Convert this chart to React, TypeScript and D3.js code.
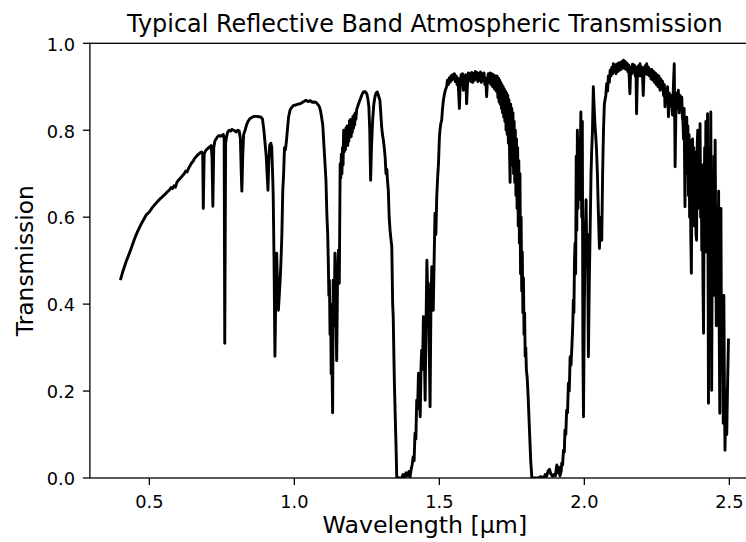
import React from "react";
import * as d3 from "d3";

const title = "Typical Reflective Band Atmospheric Transmission";
const xLabel = "Wavelength [μm]";
const yLabel = "Transmission";
const xTicks = [0.5, 1.0, 1.5, 2.0, 2.5];
const yTicks = [0.0, 0.2, 0.4, 0.6, 0.8, 1.0];

// [wavelength µm, transmission]
const visNir: [number, number][] = [
  [0.400, 0.455], [0.410, 0.478], [0.420, 0.498], [0.430, 0.515], [0.440, 0.533], [0.450, 0.552],
  [0.460, 0.568], [0.470, 0.582], [0.480, 0.594], [0.490, 0.606], [0.500, 0.612], [0.510, 0.622],
  [0.520, 0.630], [0.530, 0.637], [0.540, 0.644], [0.550, 0.650], [0.560, 0.657], [0.570, 0.663],
  [0.575, 0.668], [0.580, 0.666], [0.585, 0.672], [0.590, 0.669], [0.595, 0.680], [0.600, 0.685],
  [0.610, 0.692], [0.620, 0.700], [0.625, 0.706], [0.630, 0.704], [0.635, 0.712], [0.640, 0.718],
  [0.645, 0.724], [0.650, 0.728], [0.655, 0.734], [0.660, 0.738], [0.665, 0.742], [0.670, 0.745],
  [0.675, 0.748], [0.680, 0.750], [0.684, 0.745], [0.686, 0.620], [0.689, 0.745], [0.693, 0.752],
  [0.698, 0.756], [0.703, 0.759], [0.708, 0.762], [0.713, 0.765], [0.716, 0.740], [0.719, 0.625],
  [0.722, 0.760], [0.726, 0.775], [0.730, 0.780], [0.735, 0.785], [0.740, 0.788], [0.745, 0.786],
  [0.750, 0.788], [0.755, 0.790], [0.758, 0.780], [0.760, 0.310], [0.763, 0.770], [0.766, 0.785],
  [0.770, 0.795], [0.775, 0.800], [0.780, 0.798], [0.785, 0.802], [0.790, 0.800], [0.795, 0.798],
  [0.800, 0.796], [0.805, 0.800], [0.810, 0.798], [0.814, 0.780], [0.817, 0.700], [0.819, 0.660],
  [0.822, 0.740], [0.825, 0.790], [0.830, 0.800], [0.835, 0.812], [0.840, 0.820], [0.847, 0.827],
  [0.855, 0.830], [0.862, 0.832], [0.870, 0.832], [0.878, 0.831], [0.885, 0.830], [0.890, 0.826],
  [0.895, 0.800], [0.899, 0.770], [0.903, 0.740], [0.906, 0.700], [0.909, 0.662], [0.912, 0.730],
  [0.915, 0.766], [0.919, 0.770], [0.922, 0.762], [0.925, 0.700], [0.927, 0.655], [0.930, 0.500],
  [0.933, 0.280], [0.936, 0.420], [0.939, 0.517], [0.942, 0.440], [0.945, 0.386], [0.948, 0.420],
  [0.951, 0.455], [0.954, 0.500], [0.957, 0.560], [0.960, 0.660], [0.963, 0.700], [0.966, 0.760],
  [0.969, 0.755], [0.972, 0.770], [0.976, 0.800], [0.980, 0.830], [0.985, 0.846], [0.990, 0.852],
  [0.997, 0.857], [1.005, 0.858], [1.012, 0.860], [1.020, 0.861], [1.030, 0.865], [1.040, 0.869],
  [1.048, 0.866], [1.055, 0.868], [1.062, 0.864], [1.068, 0.865], [1.075, 0.864], [1.080, 0.860],
  [1.085, 0.856], [1.090, 0.846], [1.094, 0.830], [1.098, 0.812], [1.102, 0.765], [1.106, 0.720],
  [1.109, 0.685], [1.112, 0.610], [1.115, 0.560], [1.117, 0.500], [1.119, 0.420], [1.121, 0.455],
  [1.123, 0.330], [1.125, 0.400], [1.127, 0.240], [1.129, 0.300], [1.132, 0.150], [1.134, 0.455],
  [1.137, 0.350], [1.140, 0.517], [1.143, 0.400], [1.146, 0.270], [1.149, 0.460], [1.152, 0.524],
  [1.155, 0.448], [1.158, 0.723], [1.160, 0.690], [1.162, 0.745], [1.164, 0.700], [1.166, 0.760],
  [1.168, 0.720], [1.170, 0.800], [1.172, 0.750], [1.174, 0.790], [1.176, 0.755], [1.178, 0.805],
  [1.180, 0.770], [1.182, 0.810], [1.184, 0.765], [1.186, 0.800], [1.188, 0.775], [1.190, 0.822],
  [1.192, 0.790], [1.194, 0.825], [1.196, 0.785], [1.198, 0.820], [1.200, 0.795], [1.202, 0.832],
  [1.204, 0.805], [1.206, 0.835], [1.208, 0.812], [1.210, 0.840], [1.212, 0.825], [1.215, 0.848],
  [1.220, 0.858], [1.226, 0.869], [1.232, 0.880], [1.238, 0.888], [1.244, 0.889], [1.250, 0.884],
  [1.254, 0.870], [1.257, 0.854], [1.260, 0.800], [1.263, 0.685], [1.266, 0.760], [1.270, 0.823],
  [1.274, 0.860], [1.278, 0.877], [1.282, 0.886], [1.286, 0.888], [1.290, 0.880], [1.295, 0.869],
  [1.298, 0.840], [1.301, 0.808], [1.304, 0.790], [1.307, 0.777], [1.310, 0.760], [1.313, 0.739],
  [1.316, 0.700], [1.319, 0.710], [1.321, 0.685], [1.324, 0.662], [1.327, 0.600], [1.330, 0.570],
  [1.333, 0.550], [1.336, 0.532], [1.339, 0.400], [1.341, 0.370], [1.343, 0.290], [1.345, 0.218],
  [1.348, 0.140], [1.351, 0.064], [1.353, 0.003],
];

const swir1: [number, number][] = [
  [1.360, 0.000], [1.370, 0.000], [1.375, 0.008], [1.380, 0.000], [1.385, 0.012], [1.390, 0.005],
  [1.395, 0.015], [1.399, 0.003], [1.403, 0.020], [1.406, 0.030], [1.410, 0.049], [1.413, 0.040],
  [1.416, 0.103], [1.419, 0.090], [1.422, 0.179], [1.425, 0.160], [1.428, 0.241], [1.431, 0.200],
  [1.434, 0.141], [1.437, 0.260], [1.439, 0.294], [1.442, 0.250], [1.445, 0.371], [1.448, 0.300],
  [1.451, 0.179], [1.454, 0.350], [1.457, 0.501], [1.460, 0.420], [1.462, 0.448], [1.465, 0.300],
  [1.468, 0.164], [1.471, 0.400], [1.474, 0.486], [1.477, 0.430], [1.479, 0.386], [1.482, 0.500],
  [1.485, 0.609], [1.488, 0.560], [1.491, 0.647], [1.494, 0.690], [1.497, 0.723], [1.500, 0.780],
  [1.502, 0.800], [1.505, 0.815], [1.508, 0.823], [1.511, 0.850], [1.514, 0.869], [1.518, 0.885],
  [1.522, 0.895], [1.525, 0.900], [1.528, 0.915], [1.531, 0.905], [1.534, 0.920], [1.537, 0.910],
  [1.540, 0.925], [1.543, 0.915], [1.546, 0.928], [1.549, 0.918], [1.552, 0.930], [1.555, 0.912],
  [1.558, 0.925], [1.561, 0.905], [1.564, 0.920], [1.567, 0.880], [1.569, 0.850], [1.572, 0.905],
  [1.575, 0.928], [1.577, 0.905], [1.580, 0.930], [1.583, 0.892], [1.586, 0.925], [1.589, 0.910],
  [1.591, 0.928], [1.594, 0.861], [1.597, 0.905], [1.600, 0.932], [1.603, 0.915], [1.606, 0.930],
  [1.609, 0.912], [1.612, 0.933], [1.615, 0.910], [1.618, 0.930], [1.621, 0.915], [1.624, 0.935],
  [1.627, 0.918], [1.630, 0.933], [1.633, 0.912], [1.636, 0.930], [1.639, 0.915], [1.642, 0.934],
  [1.645, 0.910], [1.648, 0.930], [1.651, 0.915], [1.654, 0.932], [1.657, 0.905], [1.660, 0.920],
  [1.663, 0.877], [1.666, 0.918], [1.669, 0.930], [1.672, 0.910], [1.675, 0.932], [1.678, 0.905],
  [1.681, 0.930], [1.684, 0.900], [1.687, 0.928], [1.690, 0.895], [1.693, 0.925], [1.696, 0.890],
  [1.699, 0.925], [1.702, 0.875], [1.704, 0.920], [1.706, 0.865], [1.708, 0.915], [1.710, 0.860],
  [1.712, 0.910], [1.714, 0.850], [1.716, 0.905], [1.718, 0.840], [1.720, 0.900], [1.722, 0.830],
  [1.724, 0.895], [1.726, 0.820], [1.728, 0.890], [1.730, 0.800], [1.732, 0.885], [1.734, 0.790],
  [1.736, 0.880], [1.738, 0.770], [1.740, 0.870], [1.742, 0.750], [1.744, 0.680], [1.746, 0.860],
  [1.748, 0.740], [1.750, 0.850], [1.752, 0.720], [1.754, 0.840], [1.756, 0.700], [1.758, 0.820],
  [1.760, 0.680], [1.762, 0.800], [1.764, 0.650], [1.766, 0.780], [1.768, 0.620], [1.770, 0.760],
  [1.772, 0.580], [1.774, 0.730], [1.776, 0.540], [1.778, 0.700], [1.780, 0.470], [1.782, 0.600],
  [1.784, 0.430], [1.786, 0.520], [1.788, 0.380], [1.790, 0.460], [1.792, 0.330], [1.794, 0.380],
  [1.796, 0.280], [1.798, 0.300], [1.800, 0.250], [1.803, 0.230], [1.806, 0.190], [1.809, 0.140],
  [1.812, 0.090], [1.815, 0.040], [1.819, 0.000],
];

const swir2: [number, number][] = [
  [1.830, 0.000], [1.840, 0.000], [1.850, 0.003], [1.860, 0.000], [1.865, 0.008], [1.870, 0.004],
  [1.875, 0.016], [1.880, 0.020], [1.884, 0.010], [1.890, 0.004], [1.895, 0.008], [1.900, 0.005],
  [1.905, 0.030], [1.908, 0.012], [1.912, 0.025], [1.916, 0.005], [1.920, 0.015], [1.922, 0.034],
  [1.925, 0.030], [1.928, 0.064], [1.931, 0.060], [1.933, 0.110], [1.936, 0.100], [1.939, 0.156],
  [1.942, 0.150], [1.945, 0.218], [1.948, 0.200], [1.951, 0.279], [1.954, 0.260], [1.957, 0.302],
  [1.960, 0.350], [1.962, 0.409], [1.964, 0.380], [1.966, 0.500], [1.968, 0.540], [1.970, 0.470],
  [1.972, 0.740], [1.974, 0.570], [1.976, 0.800], [1.978, 0.620], [1.980, 0.780], [1.982, 0.640],
  [1.985, 0.700], [1.988, 0.842], [1.991, 0.600], [1.993, 0.820], [1.995, 0.300], [1.997, 0.141],
  [2.000, 0.400], [2.003, 0.560], [2.006, 0.640], [2.008, 0.520], [2.011, 0.560], [2.014, 0.279],
  [2.017, 0.450], [2.020, 0.570], [2.023, 0.700], [2.025, 0.746], [2.028, 0.800], [2.031, 0.900],
  [2.034, 0.850], [2.037, 0.808], [2.040, 0.780], [2.042, 0.754], [2.045, 0.700], [2.048, 0.620],
  [2.052, 0.528], [2.056, 0.600], [2.060, 0.547], [2.063, 0.700], [2.066, 0.800], [2.069, 0.860],
  [2.071, 0.869], [2.074, 0.880], [2.077, 0.907], [2.080, 0.890], [2.083, 0.925], [2.086, 0.910],
  [2.089, 0.938], [2.092, 0.925], [2.095, 0.945], [2.098, 0.930], [2.100, 0.953], [2.103, 0.935],
  [2.106, 0.950], [2.109, 0.930], [2.112, 0.952], [2.115, 0.935], [2.118, 0.955], [2.121, 0.938],
  [2.124, 0.956], [2.127, 0.940], [2.130, 0.958], [2.133, 0.945], [2.135, 0.961], [2.138, 0.942],
  [2.141, 0.958], [2.144, 0.940], [2.147, 0.954], [2.150, 0.935], [2.153, 0.950], [2.157, 0.884],
  [2.160, 0.945], [2.163, 0.930], [2.166, 0.952], [2.169, 0.935], [2.172, 0.950], [2.175, 0.925],
  [2.178, 0.945], [2.180, 0.838], [2.183, 0.930], [2.186, 0.948], [2.189, 0.925], [2.192, 0.953],
  [2.195, 0.925], [2.198, 0.945], [2.201, 0.920], [2.203, 0.880], [2.206, 0.935], [2.209, 0.948],
  [2.212, 0.930], [2.215, 0.953], [2.218, 0.928], [2.221, 0.945], [2.224, 0.925], [2.227, 0.940],
  [2.230, 0.918], [2.233, 0.940], [2.236, 0.915], [2.239, 0.935], [2.242, 0.910], [2.245, 0.932],
  [2.248, 0.905], [2.251, 0.928], [2.254, 0.900], [2.257, 0.925], [2.261, 0.892], [2.264, 0.918],
  [2.267, 0.895], [2.270, 0.912], [2.273, 0.880], [2.276, 0.905], [2.278, 0.854], [2.281, 0.895],
  [2.284, 0.865], [2.287, 0.900], [2.290, 0.831], [2.293, 0.885], [2.296, 0.855], [2.299, 0.880],
  [2.301, 0.865], [2.304, 0.835], [2.307, 0.900], [2.310, 0.953], [2.313, 0.716], [2.316, 0.860],
  [2.319, 0.885], [2.322, 0.850], [2.324, 0.892], [2.327, 0.840], [2.330, 0.880], [2.333, 0.850],
  [2.336, 0.876], [2.338, 0.830], [2.340, 0.820], [2.342, 0.780], [2.344, 0.850], [2.346, 0.700],
  [2.347, 0.624], [2.349, 0.820], [2.351, 0.760], [2.353, 0.830], [2.355, 0.700], [2.357, 0.810],
  [2.359, 0.650], [2.361, 0.790], [2.363, 0.600], [2.365, 0.777], [2.367, 0.560], [2.369, 0.471],
  [2.371, 0.700], [2.373, 0.780], [2.375, 0.620], [2.377, 0.760], [2.379, 0.580], [2.381, 0.750],
  [2.383, 0.650], [2.385, 0.560], [2.387, 0.547], [2.389, 0.760], [2.391, 0.800], [2.393, 0.680],
  [2.395, 0.800], [2.397, 0.620], [2.399, 0.815], [2.401, 0.600], [2.403, 0.700], [2.405, 0.524],
  [2.407, 0.720], [2.409, 0.450], [2.411, 0.333], [2.413, 0.650], [2.415, 0.760], [2.417, 0.580],
  [2.419, 0.820], [2.421, 0.520], [2.423, 0.780], [2.425, 0.838], [2.427, 0.400], [2.428, 0.172],
  [2.430, 0.600], [2.432, 0.754], [2.434, 0.480], [2.436, 0.842], [2.438, 0.450], [2.439, 0.202],
  [2.441, 0.550], [2.443, 0.700], [2.445, 0.420], [2.447, 0.740], [2.449, 0.500], [2.451, 0.777],
  [2.453, 0.550], [2.455, 0.350], [2.457, 0.409], [2.459, 0.620], [2.461, 0.450], [2.463, 0.660],
  [2.465, 0.350], [2.467, 0.149], [2.469, 0.500], [2.471, 0.620], [2.473, 0.250], [2.475, 0.400],
  [2.477, 0.300], [2.479, 0.126], [2.481, 0.420], [2.483, 0.200], [2.485, 0.064], [2.488, 0.200],
  [2.491, 0.100], [2.494, 0.220], [2.497, 0.321],
];

const spectrum = [...visNir, ...swir1, ...swir2];

const W = 746;
const H = 542;
const FONT = "DejaVu Sans, sans-serif";

export default function App() {
  const x = d3.scaleLinear().domain([0.295, 2.605]).range([89.9, 759.8]);
  const y = d3.scaleLinear().domain([0, 1]).range([478, 43.3]);
  const line = d3
    .line<[number, number]>()
    .x((d) => x(d[0]))
    .y((d) => y(d[1]));
  const [x0, x1] = x.range();
  const [yb, yt] = y.range();
  const tickLen = 7;

  return (
    <svg
      width={W}
      height={H}
      style={{ position: "absolute", left: 0, top: 0, background: "#fff" }}
      fontFamily={FONT}
    >
      <defs>
        <clipPath id="plotclip">
          <rect x={x0} y={yt} width={x1 - x0} height={yb - yt} />
        </clipPath>
      </defs>
      <rect x={0} y={0} width={W} height={H} fill="#fff" />
      <path
        d={line(spectrum) || ""}
        fill="none"
        stroke="#000"
        strokeWidth={2.9}
        strokeLinejoin="round"
        clipPath="url(#plotclip)"
      />
      <rect x={x0} y={yt} width={x1 - x0} height={yb - yt} fill="none" stroke="#000" strokeWidth={1.3} />
      {xTicks.map((t) => (
        <g key={"x" + t}>
          <line x1={x(t)} x2={x(t)} y1={yb} y2={yb + tickLen} stroke="#000" strokeWidth={1.3} />
          <text x={x(t)} y={507.5} textAnchor="middle" fontSize={17.8} fill="#000">
            {t.toFixed(1)}
          </text>
        </g>
      ))}
      {yTicks.map((t) => (
        <g key={"y" + t}>
          <line x1={x0 - tickLen} x2={x0} y1={y(t)} y2={y(t)} stroke="#000" strokeWidth={1.3} />
          <text x={75} y={y(t) + 7.3} textAnchor="end" fontSize={17.8} fill="#000">
            {t.toFixed(1)}
          </text>
        </g>
      ))}
      <text x={(x0 + x1) / 2} y={31.5} textAnchor="middle" fontSize={23.9} fill="#000">
        {title}
      </text>
      <text x={(x0 + x1) / 2} y={533} textAnchor="middle" fontSize={23.7} fill="#000">
        {xLabel}
      </text>
      <text
        transform={`translate(33, ${(yt + yb) / 2}) rotate(-90)`}
        textAnchor="middle"
        fontSize={23.4}
        fill="#000"
      >
        {yLabel}
      </text>
    </svg>
  );
}
